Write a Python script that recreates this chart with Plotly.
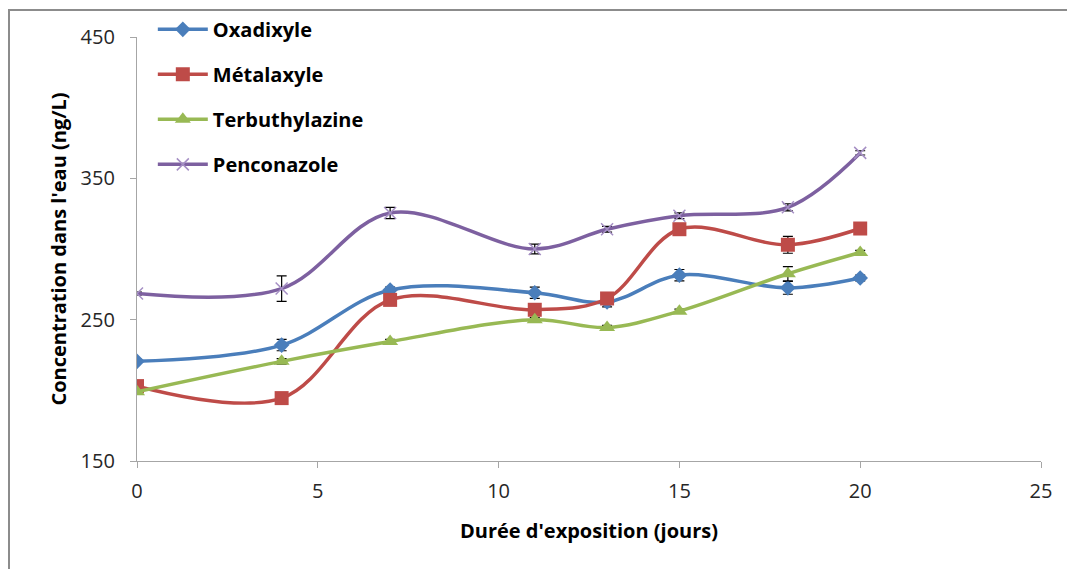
import plotly.graph_objects as go

days = [0, 4, 7, 11, 13, 15, 18, 20]

oxadixyle = [220.5, 232, 271, 269, 262.5, 281.5, 272.5, 279.5]
oxadixyle_err = [1.5, 4, 2, 4, 3.5, 4, 4.5, 2]

metalaxyle = [203, 194.5, 264, 257, 265, 314, 303, 314.5]
metalaxyle_err = [1.5, 1.5, 2, 3, 2, 2, 6, 1.5]

terbuthylazine = [199, 220.5, 234.5, 250, 244.5, 256, 282.5, 297.5]
terbuthylazine_err = [1, 2, 1.5, 1.5, 1.5, 1.5, 5, 1.5]

penconazole = [268.5, 272, 325.5, 300, 314, 323.5, 329.5, 368]
penconazole_err = [1, 9, 4, 3.5, 2, 2, 2.5, 1.5]

names = ["Oxadixyle", "Métalaxyle", "Terbuthylazine", "Penconazole"]
series = [oxadixyle, metalaxyle, terbuthylazine, penconazole]
errors = [oxadixyle_err, metalaxyle_err, terbuthylazine_err, penconazole_err]
colors = ["#4A7EBB", "#BE4B48", "#98B954", "#7D60A0"]
symbols = ["diamond", "square", "triangle-up", "x-thin"]
sizes = [12, 14, 14, 12]

fig = go.Figure()
for i, (n, y, e, c, s, sz) in enumerate(zip(names, series, errors, colors, symbols, sizes)):
    marker = dict(symbol=s, size=sz, color=c)
    if s == "x-thin":
        marker["line"] = dict(color="#A58FC4", width=1.5)
    fig.add_trace(go.Scatter(
        x=days, y=y, name=n, mode="lines+markers",
        line=dict(color=c, width=3.5, shape="spline", smoothing=1.0),
        marker=marker,
        error_y=dict(type="data", array=e, visible=True, color="black", thickness=1.2, width=5),
        legendgroup=f"g{i}",
    ))

axis_common = dict(
    showgrid=False, zeroline=False, showline=True, linecolor="#A6A6A6", linewidth=1.3,
    ticks="outside", ticklen=6, tickcolor="#A6A6A6", tickwidth=1.3,
    tickfont=dict(family="Open Sans", size=20, color="#262626"),
)

# page body has an 8px offset; margins compensate so the plot area lands where the reference has it
L, T, R, B = 129, 29, 42, 116
W, H = 1075, 569
pw, ph = W - L - R, H - T - B

fig.update_layout(
    width=W, height=H,
    margin=dict(l=L, r=R, t=T, b=B, autoexpand=False),
    paper_bgcolor="white", plot_bgcolor="white",
    xaxis=dict(range=[0, 25], dtick=5, tick0=0, ticklabelstandoff=6,
               title=dict(text="<b>Durée d'exposition (jours)</b>",
                          font=dict(family="Open Sans", size=20, color="black"), standoff=20),
               **axis_common),
    yaxis=dict(range=[150, 450], dtick=100, tick0=150, ticklabelstandoff=11,
               title=dict(text="<b>Concentration dans l'eau (ng/L)</b>",
                          font=dict(family="Open Sans", size=20, color="black"), standoff=8),
               **axis_common),
    legend=dict(x=0.0175, y=1.064, xanchor="left", yanchor="top",
                bgcolor="rgba(0,0,0,0)", tracegroupgap=16, itemwidth=50,
                font=dict(family="Open Sans", size=20, color="black", weight="bold")),
    shapes=[dict(type="rect", xref="paper", yref="paper",
                 x0=(1 - L) / pw, x1=1.2, y0=-0.5, y1=(H - B - 2) / ph,
                 line=dict(color="#8C8C8C", width=2), fillcolor="rgba(0,0,0,0)", layer="below")],
)

fig.write_html("out.html")
